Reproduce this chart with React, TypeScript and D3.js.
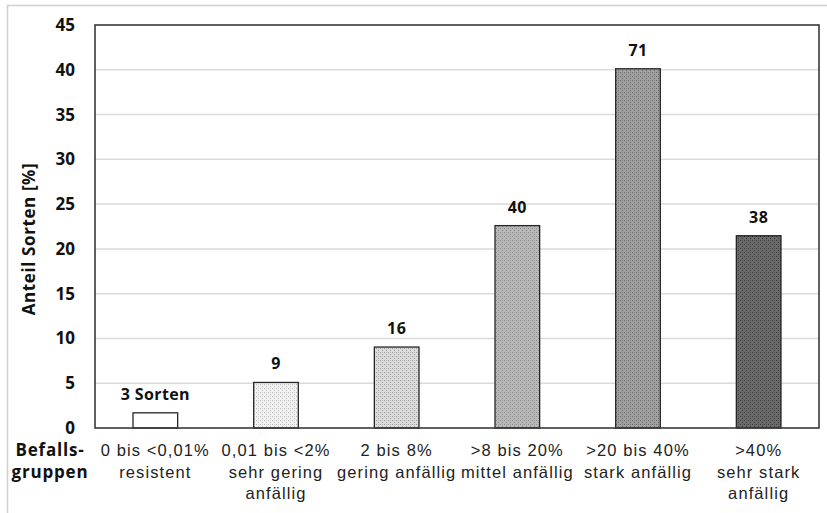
import React from "react";
import * as d3 from "d3";

// Befallsgruppen (two/three text lines each) and number of varieties per group
const groupLines: string[][] = [
  ["0 bis <0,01%", "resistent"],
  ["0,01 bis <2%", "sehr gering", "anfällig"],
  ["2 bis 8%", "gering anfällig"],
  [">8 bis 20%", "mittel anfällig"],
  [">20 bis 40%", "stark anfällig"],
  [">40%", "sehr stark", "anfällig"],
];
const sortCounts: number[] = [3, 9, 16, 40, 71, 38];
const countLabels: string[] = ["3 Sorten", "9", "16", "40", "71", "38"];
const yTicks: number[] = [0, 5, 10, 15, 20, 25, 30, 35, 40, 45];

// fill shades for the dotted patterns: [base, dot]
const shades: [string, string][] = [
  ["#ffffff", "#ffffff"],
  ["#f2f2f2", "#b8b8b8"],
  ["#dcdcdc", "#9a9a9a"],
  ["#b8b8b8", "#8a8a8a"],
  ["#a0a0a0", "#6a6a6a"],
  ["#6a6a6a", "#3c3c3c"],
];

const W = 827;
const H = 513;
const margin = { left: 95, right: 8, top: 25, bottom: 85 };

export default function App() {
  const total = d3.sum(sortCounts);
  const shares = sortCounts.map((c) => (c / total) * 100);

  const x = d3
    .scaleBand<number>()
    .domain(d3.range(sortCounts.length))
    .range([margin.left, W - margin.right])
    .paddingInner(0.63)
    .paddingOuter(0.315);
  const y = d3.scaleLinear().domain([0, 45]).range([H - margin.bottom, margin.top]);

  const plotLeft = margin.left;
  const plotRight = W - margin.right;

  const labelFont = "'Liberation Sans', Arial, sans-serif";
  const boldFont = "'Open Sans', Lato, sans-serif";

  return (
    <svg
      width={W}
      height={H}
      style={{ position: "absolute", left: 0, top: 0, background: "#fff" }}
    >
      <defs>
        {shades.map(([base, dot], i) => (
          <pattern
            key={i}
            id={`dots${i}`}
            width={4}
            height={4}
            patternUnits="userSpaceOnUse"
          >
            <rect width={4} height={4} fill={base} />
            <rect x={0} y={0} width={1} height={1} fill={dot} />
            <rect x={2} y={2} width={1} height={1} fill={dot} />
            <rect x={2} y={0} width={1} height={1} fill={dot} opacity={0.5} />
          </pattern>
        ))}
      </defs>

      {/* outer frame */}
      <line x1={7} x2={W} y1={5.5} y2={5.5} stroke="#d0d0d0" strokeWidth={1.5} />
      <line x1={7.5} x2={7.5} y1={5} y2={H} stroke="#d0d0d0" strokeWidth={1.5} />

      {/* grid lines */}
      {yTicks
        .filter((t) => t > 0 && t < 45)
        .map((t) => (
          <line
            key={t}
            x1={plotLeft}
            x2={plotRight}
            y1={y(t)}
            y2={y(t)}
            stroke="#dadada"
            strokeWidth={1.5}
          />
        ))}

      {/* bars */}
      {shares.map((v, i) => (
        <rect
          key={i}
          x={x(i)}
          y={y(v)}
          width={x.bandwidth()}
          height={y(0) - y(v)}
          fill={`url(#dots${i})`}
          stroke="#262626"
          strokeWidth={1.3}
        />
      ))}

      {/* plot box */}
      <rect
        x={plotLeft}
        y={y(45)}
        width={plotRight - plotLeft}
        height={y(0) - y(45)}
        fill="none"
        stroke="#3a3a3a"
        strokeWidth={1.6}
      />

      {/* value labels */}
      {shares.map((v, i) => (
        <text
          key={i}
          x={(x(i) as number) + x.bandwidth() / 2}
          y={y(v) - 13}
          textAnchor="middle"
          fontFamily={boldFont}
          fontWeight={700}
          fontSize={16}
          letterSpacing={0.4}
          fill="#111"
        >
          {countLabels[i]}
        </text>
      ))}

      {/* y tick labels */}
      {yTicks.map((t) => (
        <text
          key={t}
          x={75}
          y={y(t) + 6}
          textAnchor="end"
          fontFamily={boldFont}
          fontWeight={700}
          fontSize={17}
          fill="#111"
        >
          {t}
        </text>
      ))}

      {/* y axis title */}
      <text
        transform={`translate(35, 239) rotate(-90)`}
        textAnchor="middle"
        fontFamily={boldFont}
        fontWeight={700}
        fontSize={17}
        letterSpacing={0.6}
        fill="#111"
      >
        Anteil Sorten [%]
      </text>

      {/* category labels */}
      {groupLines.map((lines, i) => (
        <text
          key={i}
          textAnchor="middle"
          fontFamily={labelFont}
          fontSize={16.5}
          letterSpacing={1.1}
          fill="#222"
        >
          {lines.map((ln, j) => (
            <tspan
              key={j}
              x={(x(i) as number) + x.bandwidth() / 2}
              y={456 + j * 21.5}
            >
              {ln}
            </tspan>
          ))}
        </text>
      ))}

      {/* x axis caption */}
      <text
        textAnchor="middle"
        fontFamily={boldFont}
        fontWeight={700}
        fontSize={17}
        letterSpacing={0.8}
        fill="#111"
      >
        <tspan x={50} y={456}>Befalls-</tspan>
        <tspan x={50} y={477.5}>gruppen</tspan>
      </text>
    </svg>
  );
}
